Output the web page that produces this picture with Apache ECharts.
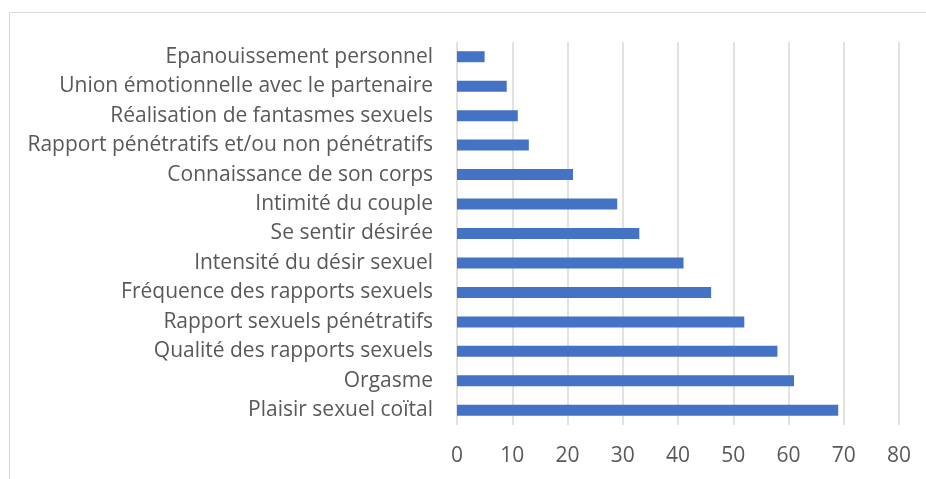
<!DOCTYPE html>
<html>
<head>
<meta charset="utf-8">
<script src="https://cdn.jsdelivr.net/npm/echarts@6/dist/echarts.min.js"></script>
<style>
  html, body { margin: 0; padding: 0; background: #fff; }
  #chart { width: 926px; height: 479px; }
</style>
</head>
<body>
<div id="chart"></div>
<script>
// catégories, de haut en bas
const categories = [
  "Epanouissement personnel",
  "Union émotionnelle avec le partenaire",
  "Réalisation de fantasmes sexuels",
  "Rapport pénétratifs et/ou non pénétratifs",
  "Connaissance de son corps",
  "Intimité du couple",
  "Se sentir désirée",
  "Intensité du désir sexuel",
  "Fréquence des rapports sexuels",
  "Rapport sexuels pénétratifs",
  "Qualité des rapports sexuels",
  "Orgasme",
  "Plaisir sexuel coïtal"
];
const values = [5, 9, 11, 13, 21, 29, 33, 41, 46, 52, 58, 61, 69];
const xTicks = [0, 10, 20, 30, 40, 50, 60, 70, 80];

const chart = echarts.init(document.getElementById('chart'));
chart.setOption({
  animation: false,
  textStyle: { fontFamily: 'Open Sans' },
  graphic: [{
    type: 'rect',
    shape: { x: 9.5, y: 12.5, width: 1000, height: 1000 },
    style: { fill: 'none', stroke: '#d9d9d9', lineWidth: 1 }
  }],
  grid: { left: 457, right: 27, top: 42, bottom: 54, containLabel: false },
  xAxis: {
    type: 'value',
    min: xTicks[0],
    max: xTicks[xTicks.length - 1],
    interval: 10,
    axisLine: { show: false },
    axisTick: { show: false },
    axisLabel: { color: '#595959', fontSize: 21, margin: 21 },
    splitLine: { lineStyle: { color: '#d9d9d9', width: 1.5 } }
  },
  yAxis: {
    type: 'category',
    inverse: true,
    data: categories,
    axisLine: { show: false },
    axisTick: { show: false },
    axisLabel: { color: '#595959', fontSize: 21, margin: 24 }
  },
  series: [{
    type: 'bar',
    data: values,
    barWidth: 11,
    itemStyle: { color: '#4472c4' }
  }]
});
</script>
</body>
</html>
